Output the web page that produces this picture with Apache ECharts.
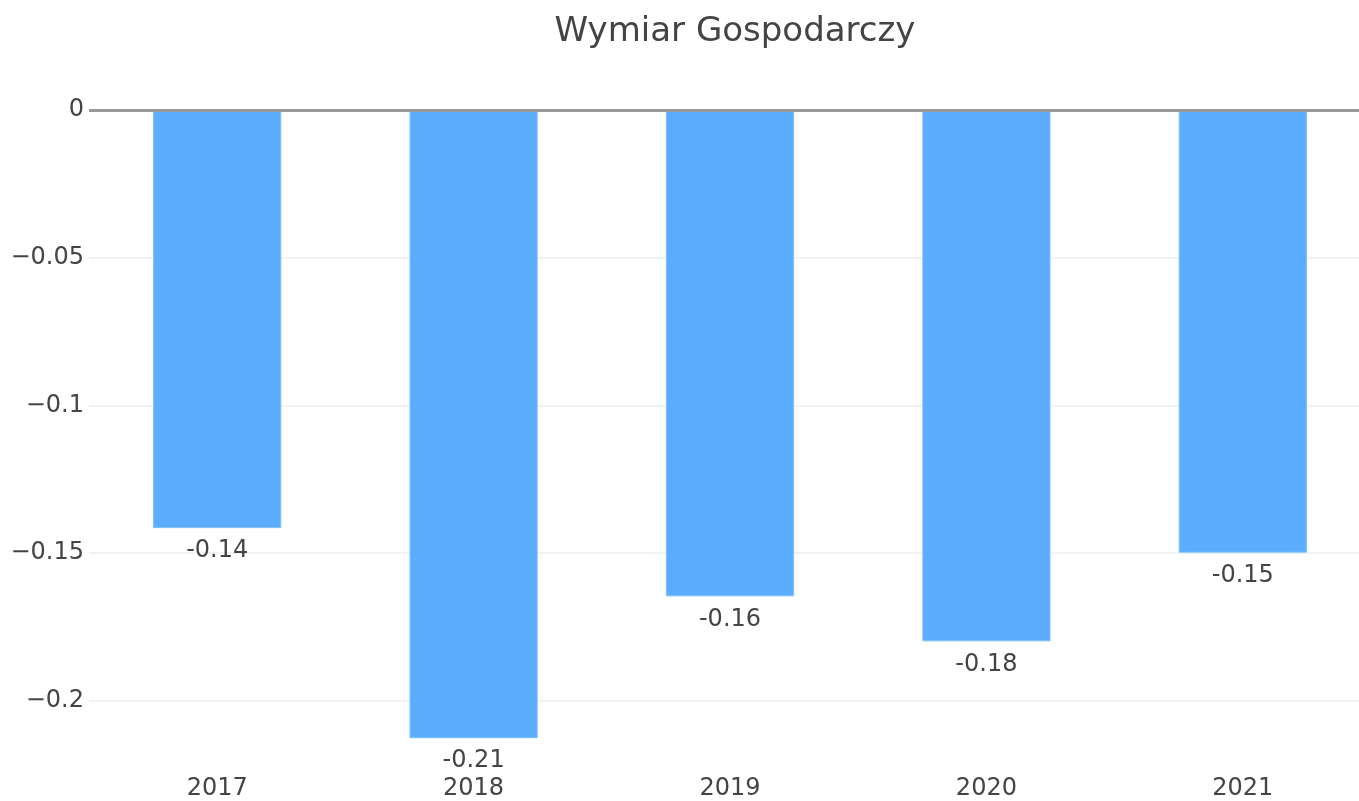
<!DOCTYPE html>
<html>
<head>
<meta charset="utf-8">
<script src="https://cdn.jsdelivr.net/npm/echarts@6/dist/echarts.min.js"></script>
<style>
  html, body { margin: 0; padding: 0; background: #fff; }
  #main { width: 1359px; height: 801px; }
</style>
</head>
<body>
<div id="main"></div>
<script>
var years = ['2017', '2018', '2019', '2020', '2021'];
var values = [-0.1415, -0.2126, -0.1646, -0.1798, -0.1498];
var yMin = -0.2237;
var yMax = 0;

var font = 'DejaVu Sans, Verdana, sans-serif';
var chart = echarts.init(document.getElementById('main'));

var option = {
    animation: false,
    title: {
        text: 'Wymiar Gospodarczy',
        left: 730,
        top: 10,
        textAlign: 'center',
        textStyle: { fontFamily: font, fontSize: 34, fontWeight: 'normal', color: '#444' }
    },
    // plot area runs a little past the right edge of the picture
    grid: { left: 89, width: 1282, top: 110, bottom: 30, outerBoundsMode: 'none' },
    xAxis: {
        type: 'category',
        data: years,
        axisLine: { show: false },
        axisTick: { show: false },
        axisLabel: { fontFamily: font, fontSize: 24, color: '#444', margin: 6 }
    },
    yAxis: {
        type: 'value',
        min: yMin,
        max: yMax,
        splitNumber: 5,
        axisLine: { show: false },
        axisTick: { show: false },
        axisLabel: {
            fontFamily: font, fontSize: 24, color: '#444', margin: 5,
            showMinLabel: false,
            formatter: function (v) {
                if (Math.abs(v) < 1e-9) return '0';
                if (v < yMin + 1e-6) return '';
                return '\u2212' + String(+Math.abs(v).toFixed(2));
            }
        },
        splitLine: {
            lineStyle: {
                color: ['rgba(0,0,0,0)', '#eeeeee', '#eeeeee', '#eeeeee', '#eeeeee', 'rgba(0,0,0,0)'],
                width: 1.5
            }
        }
    },
    series: [{
        type: 'bar',
        data: values,
        barWidth: '50%',
        itemStyle: { color: '#5cadfe', borderColor: '#7cc0ff', borderWidth: 1 },
        label: {
            show: true,
            position: 'bottom',
            distance: 11,
            fontFamily: font,
            fontSize: 24,
            color: '#444',
            formatter: function (p) { return p.value.toFixed(2); }
        },
        markLine: {
            silent: true,
            symbol: 'none',
            label: { show: false },
            lineStyle: { color: '#999', width: 3, type: 'solid' },
            data: [{ yAxis: 0 }]
        }
    }]
};
chart.setOption(option);
</script>
</body>
</html>
